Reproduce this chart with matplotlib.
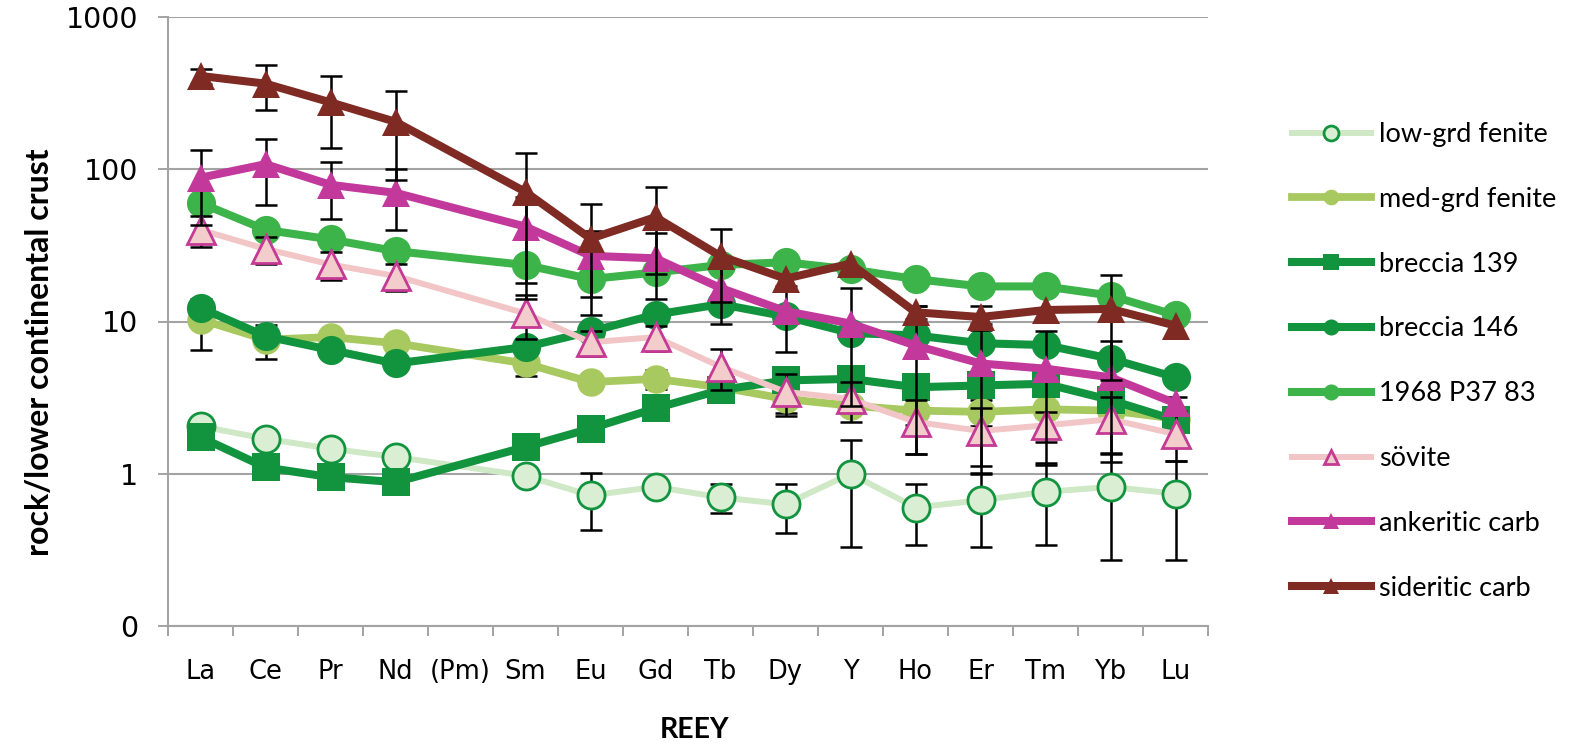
import numpy as np
import matplotlib
matplotlib.use('Agg')
import matplotlib.pyplot as plt
from matplotlib.ticker import NullLocator
from matplotlib.lines import Line2D

# ---------------- data ----------------
categories = ['La', 'Ce', 'Pr', 'Nd', '(Pm)', 'Sm', 'Eu', 'Gd', 'Tb', 'Dy',
              'Y', 'Ho', 'Er', 'Tm', 'Yb', 'Lu']

low_grd = [2.05, 1.70, 1.46, 1.29, None, 0.97, 0.72, 0.82, 0.70, 0.63,
           1.00, 0.60, 0.67, 0.76, 0.82, 0.74]
low_grd_err = [0, 0, 0, 0, None, 0, 0.29, 0, 0.15, 0.22,
               0.67, 0.26, 0.34, 0.42, 0.55, 0.47]

med_grd = [10.3, 7.6, 7.9, 7.2, None, 5.3, 4.0, 4.2, 3.7, 3.1,
           2.8, 2.6, 2.55, 2.65, 2.6, 2.3]
med_grd_err = [3.8, 1.9, 0.6, 0.6, None, 0.9, 0.4, 0.6, 0.3, 0.6,
               0.3, 0.5, 0.5, 0.3, 0.3, 0.3]

breccia139 = [1.74, 1.10, 0.95, 0.88, None, 1.50, 1.98, 2.69, 3.55, 4.1,
              4.2, 3.7, 3.8, 3.9, 3.05, 2.25]

breccia146 = [12.3, 8.0, 6.5, 5.3, None, 6.8, 8.6, 11.1, 13.0, 10.8,
              8.4, 8.1, 7.2, 7.0, 5.7, 4.3]

p37 = [60, 40, 34.6, 29, None, 23.5, 19, 21, 23.5, 24.5,
       22, 19, 17, 17, 14.8, 11]

sovite = [40, 30, 23.7, 19.9, None, 11.3, 7.3, 7.9, 5.05, 3.45,
          3.1, 2.19, 1.91, 2.08, 2.28, 1.82]
sovite_err = [9, 6, 5, 4, None, 3.6, 1.4, 1.5, 1.5, 1.05,
              0.9, 0.84, 0.78, 0.47, 0.93, 0.6]

ankeritic = [88, 108, 79, 70, None, 42, 27, 26, 16.6, 11.7,
             9.7, 6.95, 5.3, 4.9, 4.3, 2.9]
ankeritic_err = [45, 50, 32, 30, None, 24, 12.5, 12, 6.9, 5.4,
                 6.9, 5.6, 4.3, 3.75, 3.1, 0.3]

sideritic = [410, 365, 275, 205, None, 71, 35, 48.5, 26.9, 19.1,
             24, 11.5, 10.7, 11.9, 12.1, 9.4]
sideritic_err = [45, 120, 137, 120, None, 57, 24, 28, 13.4, 0,
                 0, 1.1, 1.9, 0, 8, 0]

series_names = ['low-grd fenite', 'med-grd fenite', 'breccia 139', 'breccia 146',
                '1968 P37 83', 'sövite', 'ankeritic carb', 'sideritic carb']

# ---------------- figure ----------------
W, H = 1584, 749
fig = plt.figure(figsize=(W / 100, H / 100), dpi=100)
L, R, T, B = 168, 1208, 17, 626
ax = fig.add_axes([L / W, 1 - B / H, (R - L) / W, (B - T) / H])

grey = '#a3a3a3'
ax.set_yscale('log')
ax.set_ylim(0.1, 1000)
ax.set_xlim(-0.5, len(categories) - 0.5)

ax.set_yticks([0.1, 1, 10, 100, 1000])
ax.set_yticklabels(['0', '1', '10', '100', '1000'])
ax.yaxis.set_minor_locator(NullLocator())
ax.tick_params(axis='y', which='major', length=7.5, width=1.4, color=grey,
               labelsize=20.5, pad=14, labelcolor='black')
ax.yaxis.grid(True, which='major', color=grey, lw=1.5, zorder=0)
ax.set_axisbelow(True)

xs = np.arange(len(categories))
ax.set_xticks(xs)
ax.set_xticklabels(categories)
ax.set_xticks(np.arange(-0.5, len(categories)), minor=True)
ax.tick_params(axis='x', which='major', length=0, labelsize=18.5, pad=24)
ax.tick_params(axis='x', which='minor', length=7.5, width=1.4, color=grey)

for s in ['top', 'right']:
    ax.spines[s].set_visible(False)
for s in ['left', 'bottom']:
    ax.spines[s].set_color(grey)
    ax.spines[s].set_linewidth(1.5)

dkgreen = '#12943f'
styles = [
    dict(color='#cfe8c6', lw=4.3, marker='o', ms=19.5, mfc='#d9eed3', mec=dkgreen, mew=2.0),
    dict(color='#a8c95f', lw=5.6, marker='o', ms=20.5, mfc='#a8c95f', mec='#a8c95f', mew=0),
    dict(color=dkgreen, lw=5.8, marker='s', ms=20.5, mfc=dkgreen, mec=dkgreen, mew=0),
    dict(color=dkgreen, lw=5.8, marker='o', ms=21, mfc=dkgreen, mec=dkgreen, mew=0),
    dict(color='#3cb44a', lw=5.8, marker='o', ms=21, mfc='#3cb44a', mec='#3cb44a', mew=0),
    dict(color='#f2c6c6', lw=4.3, marker='^', ms=19.5, mfc='#f3cccc', mec='#c43a95', mew=2.0),
    dict(color='#c2399b', lw=5.8, marker='^', ms=20, mfc='#c2399b', mec='#c2399b', mew=0),
    dict(color='#7f2b24', lw=5.8, marker='^', ms=20, mfc='#7f2b24', mec='#7f2b24', mew=0),
]
data = [low_grd, med_grd, breccia139, breccia146, p37, sovite, ankeritic, sideritic]
errs = [low_grd_err, med_grd_err, None, None, None, sovite_err, ankeritic_err, sideritic_err]

handles = []
for i, (name, vals, err, st) in enumerate(zip(series_names, data, errs, styles)):
    v = np.array([np.nan if a is None else a for a in vals], float)
    m = ~np.isnan(v)
    z = 3 + 2 * i
    if err is not None:
        e = np.array([np.nan if a is None else a for a in err], float)
        em = m & (np.nan_to_num(e) > 0)
        ax.errorbar(xs[em], v[em], yerr=e[em], fmt='none', ecolor='black',
                    elinewidth=1.8, capsize=8, capthick=1.8, zorder=z - 0.5)
    ax.plot(xs[m], v[m], zorder=z, solid_capstyle='round', **st)
    handles.append(Line2D([], [], label=name, **st))

# ---------------- labels ----------------
fig.text(40 / W, 1 - 352 / H, 'rock/lower continental crust', rotation=90,
         ha='center', va='center', fontsize=23, fontweight='bold', family='Lato')
fig.text(695 / W, 1 - 730 / H, 'REEY', ha='center', va='center',
         fontsize=20.5, fontweight='bold', family='Lato')

leg = fig.legend(handles=handles, loc='upper left',
                 bbox_to_anchor=(1292 / W, 1 - 122 / H),
                 bbox_transform=fig.transFigure, frameon=False,
                 prop={'family': 'Lato', 'size': 19.5},
                 handlelength=2.9, handletextpad=0.3, labelspacing=1.47,
                 borderpad=0, borderaxespad=0, markerscale=0.55)

fig.savefig('out.png', dpi=100, facecolor='white')
